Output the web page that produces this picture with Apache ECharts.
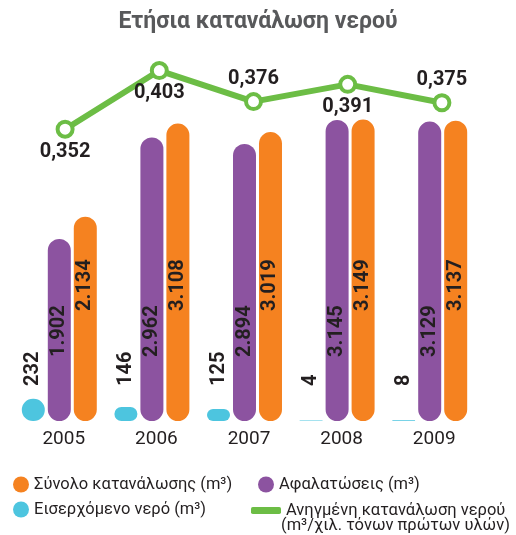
<!DOCTYPE html>
<html>
<head>
<meta charset="utf-8">
<script src="https://cdn.jsdelivr.net/npm/echarts@6/dist/echarts.min.js"></script>
<style>
  html, body { margin: 0; padding: 0; background: #fff; }
  #main { width: 516px; height: 535px; }
</style>
</head>
<body>
<div id="main"></div>
<script>
// δεδομένα
var years = ['2005', '2006', '2007', '2008', '2009'];
var incoming = [232, 146, 125, 4, 8];              // Εισερχόμενο νερό
var desalination = [1902, 2962, 2894, 3145, 3129]; // Αφαλατώσεις
var total = [2134, 3108, 3019, 3149, 3137];        // Σύνολο κατανάλωσης
var ratio = [0.352, 0.403, 0.376, 0.391, 0.375];   // Ανηγμένη κατανάλωση
var ratioLabelPos = ['bottom', 'bottom', 'top', 'bottom', 'top'];

var names = {
  total: 'Σύνολο κατανάλωσης (m³)',
  desal: 'Αφαλατώσεις (m³)',
  inc: 'Εισερχόμενο νερό (m³)',
  ratio: 'Ανηγμένη κατανάλωση νερού'
};

var ORANGE = '#f58220', PURPLE = '#8c53a0', CYAN = '#4dc5df', GREEN = '#6cbd45';
var TXT = '#231f20';
var FONT = 'Roboto';

function dots(v) {
  return String(v).replace(/\B(?=(\d{3})+(?!\d))/g, '.');
}

var barLabel = function (dist) {
  return {
    show: true,
    position: 'insideBottom',
    rotate: 90,
    align: 'left',
    verticalAlign: 'middle',
    distance: dist,
    color: TXT,
    fontFamily: FONT,
    fontWeight: 'bold',
    fontSize: 20,
    formatter: function (p) { return dots(p.value); }
  };
};

var legendText = { color: TXT, fontFamily: FONT, fontSize: 16.5 };

var option = {
  animation: false,
  title: {
    text: 'Ετήσια κατανάλωση νερού',
    left: 'center',
    top: 6,
    textStyle: { color: '#58595b', fontFamily: FONT, fontWeight: 'bold', fontSize: 23 }
  },
  legend: [
    { data: [names.total], left: 8, top: 471, icon: 'circle', itemWidth: 16, itemHeight: 16, textStyle: legendText },
    { data: [names.desal], left: 253, top: 471, icon: 'circle', itemWidth: 16, itemHeight: 16, textStyle: legendText },
    { data: [names.inc], left: 8, top: 496, icon: 'circle', itemWidth: 16, itemHeight: 16, textStyle: legendText },
    {
      data: [{ name: names.ratio, icon: 'roundRect', itemStyle: { color: GREEN, borderWidth: 0 } }],
      left: 246, top: 497, itemWidth: 30, itemHeight: 7, textStyle: legendText
    }
  ],
  graphic: [
    {
      type: 'text', left: 281, top: 517,
      style: { text: '(m³/χιλ. τόνων πρώτων υλών)', fill: TXT, font: '16.5px ' + FONT }
    }
  ],
  grid: [
    { left: 13, right: 40, top: 86, bottom: 114 },
    { left: 18, right: 27, top: 51, bottom: 346 }
  ],
  xAxis: [
    {
      type: 'category', gridIndex: 0, data: years,
      axisLine: { show: false }, axisTick: { show: false },
      axisLabel: { color: TXT, fontFamily: FONT, fontSize: 19, margin: 9, padding: [0, 0, 0, 9] }
    },
    { type: 'category', gridIndex: 1, data: years, show: false }
  ],
  yAxis: [
    { type: 'value', gridIndex: 0, min: 0, max: 3500, show: false, splitLine: { show: false } },
    { type: 'value', gridIndex: 1, min: 0.3, max: 0.42, show: false, splitLine: { show: false } }
  ],
  series: [
    {
      name: names.inc, type: 'bar', data: incoming,
      barWidth: 23, barGap: '13%',
      itemStyle: { color: CYAN, borderRadius: 12 },
      label: barLabel(35)
    },
    {
      name: names.desal, type: 'bar', data: desalination,
      barWidth: 23, barGap: '13%',
      itemStyle: { color: PURPLE, borderRadius: 12 },
      label: barLabel(64)
    },
    {
      name: names.total, type: 'bar', data: total,
      barWidth: 23, barGap: '13%',
      itemStyle: { color: ORANGE, borderRadius: 12 },
      label: barLabel(110)
    },
    {
      name: names.ratio, type: 'line',
      xAxisIndex: 1, yAxisIndex: 1,
      data: ratio.map(function (v, i) {
        return { value: v, label: { position: ratioLabelPos[i] } };
      }),
      symbol: 'circle', symbolSize: 15,
      lineStyle: { color: GREEN, width: 6 },
      itemStyle: { color: '#fff', borderColor: GREEN, borderWidth: 4 },
      label: {
        show: true, distance: 3,
        color: TXT, fontFamily: FONT, fontWeight: 'bold', fontSize: 20,
        formatter: function (p) { return String(p.value).replace('.', ','); }
      },
      z: 5
    }
  ]
};

var myChart = echarts.init(document.getElementById('main'));
myChart.setOption(option);
</script>
</body>
</html>
